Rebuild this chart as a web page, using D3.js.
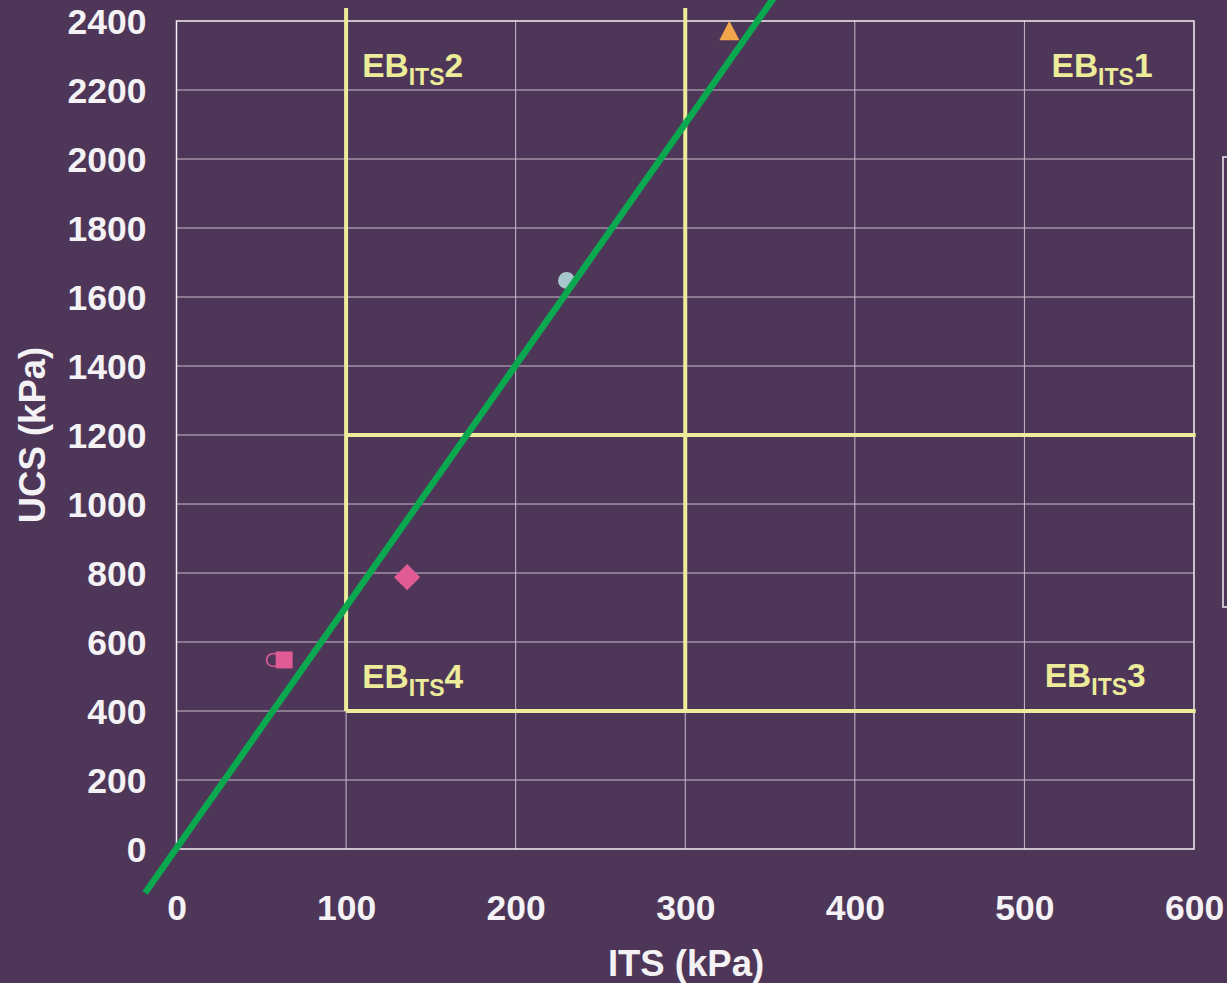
<!DOCTYPE html>
<html>
<head>
<meta charset="utf-8">
<script src="https://cdn.jsdelivr.net/npm/d3@7"></script>
<style>
  html, body { margin: 0; padding: 0; background: #4e3658; }
  svg { display: block; }
  text { font-family: "Liberation Sans", Arial, sans-serif; font-weight: bold; }
</style>
</head>
<body>
<svg id="chart" width="1227" height="983"></svg>
<script>
// ---- data ----
const xTicks = [0, 100, 200, 300, 400, 500, 600];
const yTicks = [0, 200, 400, 600, 800, 1000, 1200, 1400, 1600, 1800, 2000, 2200, 2400];
const xTitle = "ITS (kPa)";
const yTitle = "UCS (kPa)";

// data points (ITS, UCS)
const pointHollowCircle = [{its: 57, ucs: 548}];
const pointSquare = [{its: 63.5, ucs: 548}];
const pointDiamond = [{its: 136, ucs: 788}];
const pointCircle = [{its: 230, ucs: 1648}];
const pointTriangle = [{its: 326, ucs: 2370}];

// trend line UCS = 7.0 * ITS + 2
const trendLine = [{its: -18.5, ucs: -127.5}, {its: 356, ucs: 2494}];

// quadrant boundaries
const boundaries = [
  {x1: 100, y1: 400, x2: 100, y2: 2438},
  {x1: 300, y1: 400, x2: 300, y2: 2438},
  {x1: 100, y1: 1200, x2: 601, y2: 1200},
  {x1: 100, y1: 400, x2: 601, y2: 400}
];
const quadrantLabels = [
  {num: "2", its: 109.5, ucs: 2237},
  {num: "1", its: 516, ucs: 2237},
  {num: "4", its: 109.5, ucs: 466},
  {num: "3", its: 512, ucs: 470}
];

// ---- drawing ----
const svg = d3.select("#chart");
const W = 1227, H = 983;
svg.append("rect").attr("width", W).attr("height", H).attr("fill", "#4e3658");

const x = d3.scaleLinear().domain([0, 600]).range([176.5, 1194]);
const y = d3.scaleLinear().domain([0, 2400]).range([849, 21]);

const gridColor = "#c9bccb";
const yellow = "#ecec9a";

// grid
svg.append("g").selectAll("line").data(xTicks.slice(1, -1)).join("line")
  .attr("x1", d => x(d)).attr("x2", d => x(d))
  .attr("y1", y(0)).attr("y2", y(2400))
  .attr("stroke", gridColor).attr("stroke-width", 1);
svg.append("g").selectAll("line").data(yTicks.slice(1, -1)).join("line")
  .attr("x1", x(0)).attr("x2", x(600))
  .attr("y1", d => y(d)).attr("y2", d => y(d))
  .attr("stroke", gridColor).attr("stroke-width", 1);

// frame
svg.append("rect")
  .attr("x", x(0)).attr("y", y(2400))
  .attr("width", x(600) - x(0)).attr("height", y(0) - y(2400))
  .attr("fill", "none").attr("stroke", "#f4f0f4").attr("stroke-width", 1.5);

// axes (labels only)
const xAxis = d3.axisBottom(x).tickValues(xTicks).tickSize(0).tickPadding(0).tickFormat(d3.format("d"));
const gx = svg.append("g").attr("transform", `translate(0, ${y(0)})`).call(xAxis);
gx.select(".domain").remove();
gx.selectAll("text").attr("fill", "#f4f2f4").attr("font-size", 35.5)
  .attr("y", 71).attr("dy", null);

const yAxis = d3.axisLeft(y).tickValues(yTicks).tickSize(0).tickPadding(0).tickFormat(d3.format("d"));
const gy = svg.append("g").attr("transform", `translate(${x(0) - 30}, 0)`).call(yAxis);
gy.select(".domain").remove();
gy.selectAll("text").attr("fill", "#f4f2f4").attr("font-size", 35.5)
  .attr("x", 0).attr("dy", "0.36em");
gx.attr("font-family", null); gy.attr("font-family", null);

// titles
svg.append("text").attr("x", 686).attr("y", 976).attr("text-anchor", "middle")
  .attr("fill", "#f4f2f4").attr("font-size", 36.5).text(xTitle);
svg.append("text").attr("transform", "translate(45, 435) rotate(-90)").attr("text-anchor", "middle")
  .attr("fill", "#f4f2f4").attr("font-size", 36.5).text(yTitle);

// legend box (cut off at right)
svg.append("rect").attr("x", 1223).attr("y", 157).attr("width", 40).attr("height", 450)
  .attr("fill", "none").attr("stroke", "#f0eef0").attr("stroke-width", 1.5);

// quadrant boundaries
svg.append("g").selectAll("line").data(boundaries).join("line")
  .attr("x1", d => x(d.x1)).attr("x2", d => x(d.x2))
  .attr("y1", d => y(d.y1)).attr("y2", d => y(d.y2))
  .attr("stroke", yellow).attr("stroke-width", 4);

// quadrant labels
const ql = svg.append("g").selectAll("text").data(quadrantLabels).join("text")
  .attr("x", d => x(d.its)).attr("y", d => y(d.ucs))
  .attr("fill", yellow).attr("font-size", 33.5);
ql.append("tspan").text("EB");
ql.append("tspan").attr("font-size", 23).attr("dy", 8).text("ITS");
ql.append("tspan").attr("dy", -8).text(d => d.num);

// markers
const pink = "#e05a94";
svg.append("g").selectAll("circle").data(pointHollowCircle).join("circle")
  .attr("cx", d => x(d.its)).attr("cy", d => y(d.ucs)).attr("r", 6.5)
  .attr("fill", "none").attr("stroke", pink).attr("stroke-width", 1.6);
svg.append("g").selectAll("path").data(pointSquare).join("path")
  .attr("transform", d => `translate(${x(d.its)},${y(d.ucs)})`)
  .attr("d", d3.symbol(d3.symbolSquare, 17 * 17)())
  .attr("fill", pink);
svg.append("g").selectAll("path").data(pointDiamond).join("path")
  .attr("transform", d => `translate(${x(d.its)},${y(d.ucs)}) rotate(45)`)
  .attr("d", d3.symbol(d3.symbolSquare, 18.5 * 18.5)())
  .attr("fill", pink);
svg.append("g").selectAll("circle").data(pointCircle).join("circle")
  .attr("cx", d => x(d.its)).attr("cy", d => y(d.ucs)).attr("r", 8.5)
  .attr("fill", "#a6c6cb");
svg.append("g").selectAll("path").data(pointTriangle).join("path")
  .attr("transform", d => `translate(${x(d.its)},${y(d.ucs)})`)
  .attr("d", "M0,-10.5 L10,9 L-10,9 Z")
  .attr("fill", "#f4a64c");

// trend line
svg.append("path").datum(trendLine)
  .attr("d", d3.line().x(d => x(d.its)).y(d => y(d.ucs)))
  .attr("stroke", "#0aa84f").attr("stroke-width", 6.5).attr("fill", "none");
</script>
</body>
</html>
